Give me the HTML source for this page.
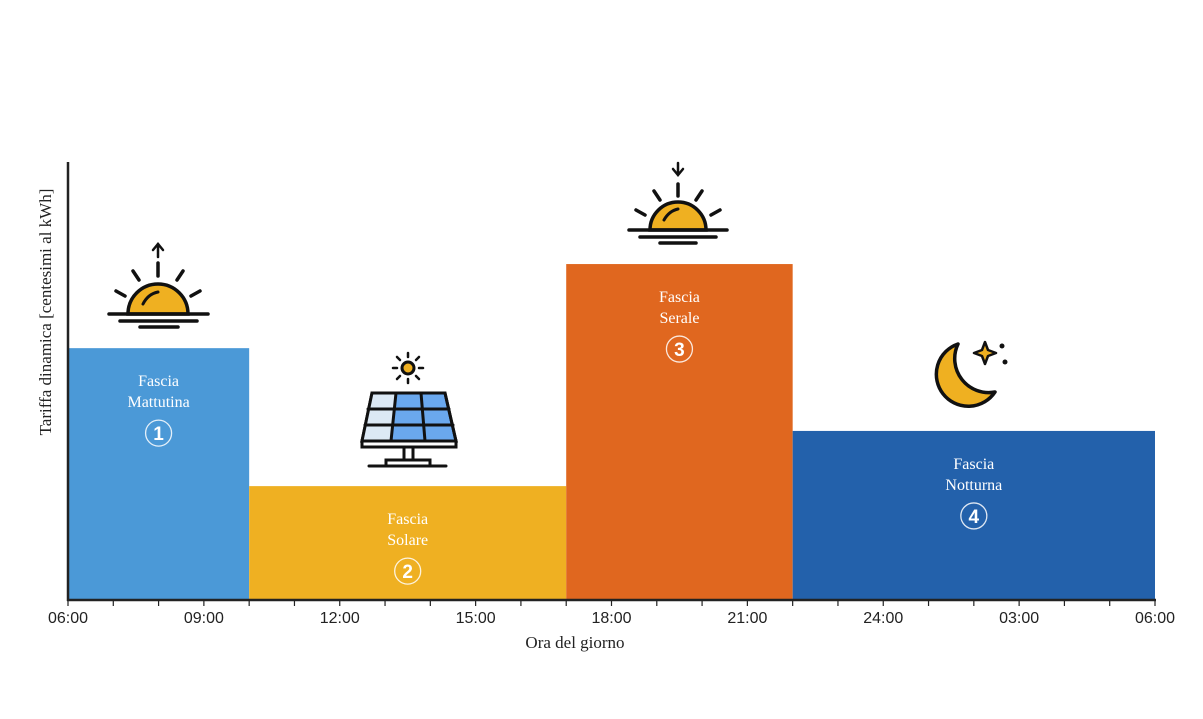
<!DOCTYPE html>
<html><head><meta charset="utf-8"><style>
html,body{margin:0;padding:0;background:#fff;}
svg{display:block;}
text{font-family:"Liberation Serif",serif;}
</style></head><body>
<svg id="chart" width="1203" height="719" viewBox="0 0 1203 719">
<g id="bars"></g>
<g id="axes"></g>
<g id="icons">
  <g stroke="#111" stroke-width="3.5" stroke-linecap="round" fill="none">
    <path d="M128,314 A30,30 0 0 1 188,314 Z" fill="#efb021"/>
    <path d="M143,304 Q148,294 158,292" stroke-width="3"/>
    <line x1="109" y1="314" x2="208" y2="314"/>
    <line x1="120" y1="321" x2="197" y2="321"/>
    <line x1="140" y1="327" x2="178" y2="327"/>
    <line x1="158" y1="263" x2="158" y2="276"/>
    <line x1="158" y1="244" x2="158" y2="257" stroke-width="2.5"/>
    <path d="M153,250 L158,244 L163,250" stroke-width="2.5"/>
    <line x1="133" y1="271" x2="139" y2="280"/>
    <line x1="183" y1="271" x2="177" y2="280"/>
    <line x1="116" y1="291" x2="125" y2="296"/>
    <line x1="200" y1="291" x2="191" y2="296"/>
  </g>
  <g stroke="#111" stroke-width="3.5" stroke-linecap="round" fill="none">
    <path d="M650,230 A28,28 0 0 1 706,230 Z" fill="#efb021"/>
    <path d="M664,220 Q669,211 678,209" stroke-width="3"/>
    <line x1="629" y1="230" x2="727" y2="230"/>
    <line x1="640" y1="237" x2="716" y2="237"/>
    <line x1="660" y1="243" x2="696" y2="243"/>
    <line x1="678" y1="184" x2="678" y2="196"/>
    <line x1="678" y1="163" x2="678" y2="174" stroke-width="2.5"/>
    <path d="M673,169 L678,175 L683,169" stroke-width="2.5"/>
    <line x1="654" y1="191" x2="660" y2="200"/>
    <line x1="702" y1="191" x2="696" y2="200"/>
    <line x1="636" y1="210" x2="645" y2="215"/>
    <line x1="720" y1="210" x2="711" y2="215"/>
  </g>
  <g stroke="#111" stroke-width="3" stroke-linecap="round">
    <circle cx="408" cy="368" r="6" fill="#efb021"/>
    <g stroke-width="2.5">
      <line x1="408" y1="353" x2="408" y2="357"/><line x1="408" y1="379" x2="408" y2="383"/>
      <line x1="393" y1="368" x2="397" y2="368"/><line x1="419" y1="368" x2="423" y2="368"/>
      <line x1="397" y1="357" x2="400" y2="360"/><line x1="419" y1="357" x2="416" y2="360"/>
      <line x1="397" y1="379" x2="400" y2="376"/><line x1="419" y1="379" x2="416" y2="376"/>
    </g>
    <path d="M372,393 L445,393 L456,441 L362,441 Z" fill="#6aa8ee"/>
    <path d="M372,393 L396,393 L390,441 L362,441 Z" fill="#dce9f5" stroke="none"/>
    <path d="M372,393 L445,393 L456,441 L362,441 Z" fill="none"/>
    <line x1="396" y1="393" x2="391" y2="441"/><line x1="421" y1="393" x2="425" y2="441"/>
    <line x1="368" y1="409" x2="449" y2="409"/><line x1="365" y1="425" x2="453" y2="425"/>
    <rect x="362" y="441" width="94" height="6" fill="#fff"/>
    <line x1="404" y1="447" x2="404" y2="460"/><line x1="413" y1="447" x2="413" y2="460"/>
    <rect x="386" y="460" width="44" height="6" fill="#fff"/>
    <line x1="369" y1="466" x2="446" y2="466"/>
  </g>
  <g>
    <path d="M958,344 A32,32 0 1 0 995,392 A34,34 0 0 1 958,344 Z" fill="#efb021" stroke="#111" stroke-width="3.5" stroke-linejoin="round"/>
    <path d="M985,342 L988,350 L996,353 L988,356 L985,364 L982,356 L974,353 L982,350 Z" fill="#efb021" stroke="#111" stroke-width="2.5" stroke-linejoin="round"/>
    <circle cx="1002" cy="346" r="2.5" fill="#111"/>
    <circle cx="1005" cy="362" r="2.5" fill="#111"/>
  </g>
</g>
<text transform="translate(51,312) rotate(-90)" text-anchor="middle" font-size="17" fill="#222">Tariffa dinamica [centesimi al kWh]</text>
<text x="575" y="648" text-anchor="middle" font-size="17" fill="#222">Ora del giorno</text>
<script>
const bandNames = ["Fascia Mattutina","Fascia Solare","Fascia Serale","Fascia Notturna"];
const bandStart = [0, 4, 11, 16];
const bandEnd = [4, 11, 16, 24];
const bandValues = [57.5, 26, 76.7, 38.6];
const bandColors = ["#4b99d7","#efb022","#e0671f","#2361ab"];
const tickLabels = ["06:00","09:00","12:00","15:00","18:00","21:00","24:00","03:00","06:00"];
const NS = "http://www.w3.org/2000/svg";
const x0 = 68, x1 = 1155, y0 = 600, yTop = 162;
function xs(h){ return x0 + (x1 - x0) * h / 24; }
function ys(v){ return y0 - (y0 - yTop) * v / 100; }
const gb = document.getElementById('bars');
bandValues.forEach((v,i)=>{
  const r = document.createElementNS(NS,'rect');
  
  
  r.setAttribute('x', xs(bandStart[i]));
  r.setAttribute('y', ys(v));
  r.setAttribute('width', xs(bandEnd[i]) - xs(bandStart[i]));
  r.setAttribute('height', y0 - ys(v));
  r.setAttribute('fill', bandColors[i]);
  gb.appendChild(r);
  const cx = (xs(bandStart[i]) + xs(bandEnd[i])) / 2;
  const top = ys(v);
  const parts = bandNames[i].split(' ');
  parts.forEach((p,j)=>{
    const t = document.createElementNS(NS,'text');
    
    
    t.setAttribute('x', cx); t.setAttribute('y', top + 38 + j*21);
    t.setAttribute('text-anchor','middle'); t.setAttribute('font-size','16');
    t.setAttribute('fill','#fff'); t.textContent = p;
    gb.appendChild(t);
  });
  const c = document.createElementNS(NS,'circle');
  
  
  c.setAttribute('cx', cx); c.setAttribute('cy', top + 85); c.setAttribute('r', 13);
  c.setAttribute('fill','none'); c.setAttribute('stroke','rgba(255,255,255,0.85)'); c.setAttribute('stroke-width','1.3');
  gb.appendChild(c);
  const n = document.createElementNS(NS,'text');
  
  
  n.setAttribute('x', cx); n.setAttribute('y', top + 92);
  n.setAttribute('text-anchor','middle'); n.setAttribute('font-size','19'); n.setAttribute('font-weight','bold');
  n.setAttribute('fill','#fff'); n.setAttribute('style','font-family:"Liberation Sans",sans-serif');
  n.textContent = String(i+1);
  gb.appendChild(n);
});
const ga = document.getElementById('axes');
function line(a,b,c,d,w,name){
  const l = document.createElementNS(NS,'line');
  
  
  l.setAttribute('x1',a);l.setAttribute('y1',b);l.setAttribute('x2',c);l.setAttribute('y2',d);
  l.setAttribute('stroke','#222');l.setAttribute('stroke-width',w);
  ga.appendChild(l);
}
line(x0, yTop, x0, y0+1, 2.5, 'y-axis-line');
line(x0-1, y0, x1+1, y0, 2.5, 'x-axis-line');
for(let h=0; h<=24; h++){
  line(xs(h), y0, xs(h), y0+6, 1.2, 'x-tick');
}
tickLabels.forEach((s,i)=>{
  const t = document.createElementNS(NS,'text');
  
  
  t.setAttribute('x', xs(i*3)); t.setAttribute('y', 623);
  t.setAttribute('text-anchor','middle'); t.setAttribute('font-size','16');
  t.setAttribute('fill','#222'); t.setAttribute('style','font-family:"Liberation Sans",sans-serif');
  t.textContent = s;
  ga.appendChild(t);
});
</script>
</svg>
</body></html>
